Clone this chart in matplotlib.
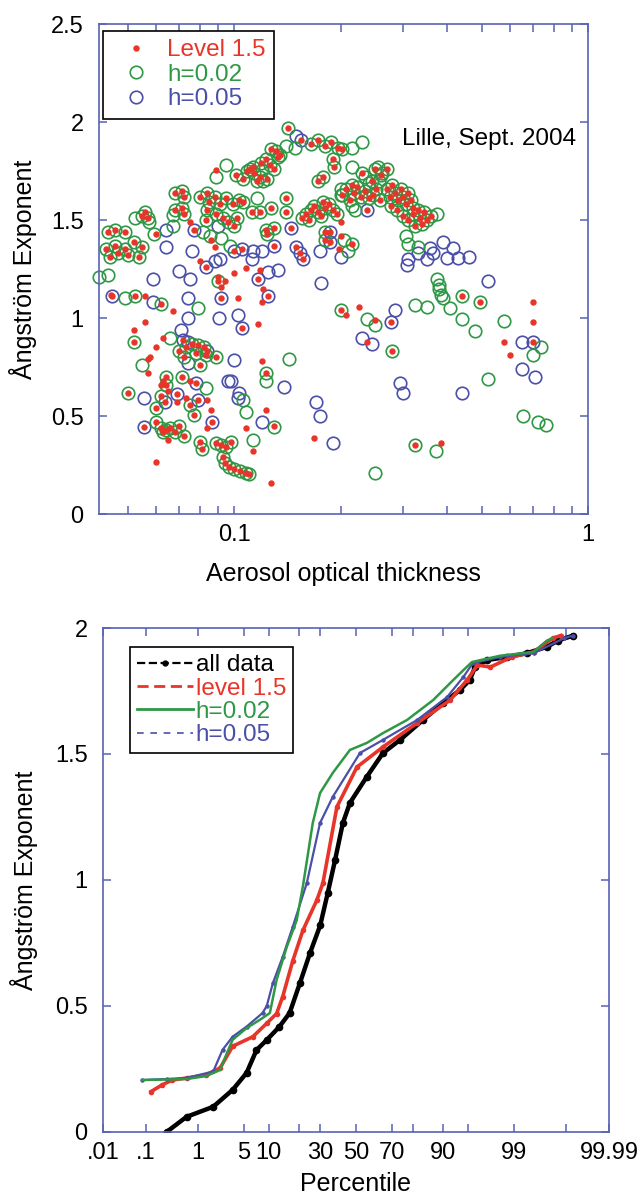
import matplotlib
matplotlib.use('Agg')

import numpy as np
import matplotlib.pyplot as plt
from matplotlib.lines import Line2D
from matplotlib.ticker import FixedLocator, NullLocator, NullFormatter, FuncFormatter
from statistics import NormalDist

plt.rcParams['font.family'] = ['Liberation Sans', 'DejaVu Sans']

# ---- top panel: AOT vs Angstrom exponent ----
# red dot inside a green ring (level 1.5 and h=0.02 agree)
both_pts = [
    (0.142, 1.97), (0.165, 1.89), (0.172, 1.91), (0.18, 1.88), (0.188, 1.90), (0.196, 1.87),
    (0.19, 1.81), (0.192, 1.77), (0.178, 1.72), (0.172, 1.70),
    (0.127, 1.86), (0.131, 1.85), (0.135, 1.83), (0.133, 1.82), (0.123, 1.81), (0.119, 1.79),
    (0.113, 1.77), (0.109, 1.75), (0.114, 1.74), (0.118, 1.72), (0.124, 1.71), (0.116, 1.70),
    (0.106, 1.71), (0.111, 1.76), (0.126, 1.78), (0.130, 1.76), (0.101, 1.73),
    (0.084, 1.64), (0.088, 1.62), (0.085, 1.59), (0.091, 1.58), (0.095, 1.61), (0.099, 1.58),
    (0.103, 1.60), (0.106, 1.59), (0.102, 1.51), (0.100, 1.47), (0.096, 1.49), (0.093, 1.51),
    (0.089, 1.53), (0.084, 1.55), (0.083, 1.50), (0.080, 1.62),
    (0.112, 1.54), (0.118, 1.54), (0.127, 1.56), (0.14, 1.61), (0.14, 1.54),
    (0.123, 1.45), (0.124, 1.43), (0.13, 1.46), (0.18, 1.44), (0.18, 1.40),
    (0.155, 1.51), (0.16, 1.53), (0.165, 1.55), (0.168, 1.57), (0.172, 1.54), (0.176, 1.52),
    (0.18, 1.56), (0.185, 1.58), (0.19, 1.55), (0.195, 1.53), (0.163, 1.50), (0.178, 1.59),
    (0.044, 1.44), (0.046, 1.45), (0.049, 1.44), (0.0435, 1.35), (0.046, 1.37), (0.049, 1.35),
    (0.052, 1.39), (0.055, 1.36), (0.054, 1.31), (0.05, 1.32), (0.0445, 1.31), (0.047, 1.33),
    (0.055, 1.52), (0.056, 1.54), (0.057, 1.51), (0.068, 1.55), (0.071, 1.56), (0.072, 1.53),
    (0.068, 1.64), (0.071, 1.65), (0.072, 1.62), (0.09, 1.19), (0.0525, 1.11), (0.062, 1.07),
    (0.202, 1.86), (0.23, 1.74), (0.25, 1.76), (0.26, 1.73), (0.27, 1.76), (0.245, 1.70),
    (0.202, 1.63), (0.207, 1.66), (0.212, 1.60), (0.218, 1.64), (0.222, 1.67), (0.228, 1.62),
    (0.234, 1.65), (0.24, 1.61), (0.246, 1.63), (0.252, 1.66), (0.258, 1.60), (0.215, 1.68),
    (0.27, 1.66), (0.275, 1.62), (0.28, 1.68), (0.285, 1.64), (0.29, 1.60), (0.296, 1.66),
    (0.30, 1.62), (0.305, 1.58), (0.31, 1.64), (0.315, 1.60), (0.32, 1.56), (0.278, 1.57),
    (0.288, 1.55), (0.30, 1.52), (0.31, 1.50), (0.32, 1.53), (0.33, 1.55), (0.335, 1.51),
    (0.34, 1.48), (0.345, 1.54), (0.35, 1.50), (0.36, 1.52), (0.325, 1.47),
    (0.215, 1.38), (0.44, 1.11), (0.495, 1.08), (0.2, 1.04), (0.28, 0.83), (0.325, 0.35),
    (0.052, 0.88), (0.070, 0.83), (0.073, 0.85), (0.076, 0.87), (0.079, 0.86), (0.082, 0.85),
    (0.078, 0.82), (0.072, 0.80), (0.083, 0.81), (0.089, 0.80), (0.08, 0.76), (0.123, 0.72),
    (0.05, 0.62), (0.06, 0.54), (0.075, 0.555), (0.077, 0.505),
    (0.064, 0.70), (0.071, 0.70), (0.062, 0.60), (0.064, 0.66),
    (0.06, 0.47), (0.062, 0.44), (0.064, 0.43), (0.066, 0.44), (0.063, 0.42), (0.068, 0.42),
    (0.072, 0.40), (0.07, 0.45), (0.080, 0.37), (0.081, 0.33),
    (0.089, 0.36), (0.092, 0.35), (0.095, 0.34), (0.098, 0.37),
    (0.093, 0.29), (0.094, 0.26), (0.097, 0.24), (0.1, 0.23), (0.104, 0.22), (0.108, 0.21),
    (0.11, 0.205),
]
# red dot alone
red_pts = [
    (0.089, 1.755), (0.06, 1.43), (0.075, 1.49), (0.086, 1.40), (0.088, 1.36), (0.08, 1.29),
    (0.09, 1.21), (0.094, 1.19), (0.092, 1.16), (0.1, 1.23), (0.108, 1.255), (0.118, 1.245),
    (0.121, 1.15), (0.045, 1.12), (0.056, 1.11), (0.067, 1.035), (0.1026, 1.10), (0.117, 0.97),
    (0.12, 1.08), (0.056, 0.98), (0.052, 0.94), (0.063, 0.90), (0.06, 0.85), (0.058, 0.80),
    (0.057, 0.79), (0.057, 0.72), (0.12, 0.78), (0.062, 0.66), (0.065, 0.63), (0.063, 0.68),
    (0.075, 0.68), (0.069, 0.57), (0.073, 0.59), (0.084, 0.58), (0.086, 0.53), (0.123, 0.53),
    (0.084, 0.44), (0.13, 0.45), (0.108, 0.44), (0.065, 0.38), (0.113, 0.32), (0.168, 0.39),
    (0.06, 0.265), (0.127, 0.16), (0.2256, 1.058), (0.207, 1.015), (0.25, 0.99), (0.238, 0.88),
    (0.70, 1.08), (0.70, 0.98), (0.577, 0.88), (0.603, 0.81), (0.385, 0.364),
    (0.2, 1.49), (0.2, 1.42), (0.198, 1.35),
]
# green ring alone (h=0.02)
green_pts = [
    (0.14, 1.88), (0.149, 1.87), (0.095, 1.78), (0.089, 1.72), (0.12, 1.755), (0.121, 1.70),
    (0.116, 1.61), (0.0526, 1.51), (0.0576, 1.49), (0.0595, 1.43), (0.0672, 1.525), (0.0672, 1.47),
    (0.0815, 1.44), (0.0855, 1.42), (0.0918, 1.41), (0.0975, 1.37), (0.0414, 1.21), (0.044, 1.22),
    (0.2, 1.63), (0.2, 1.66), (0.229, 1.90), (0.215, 1.87), (0.215, 1.77), (0.235, 1.72),
    (0.255, 1.77), (0.262, 1.74), (0.24, 1.69), (0.257, 1.70), (0.215, 1.57), (0.22, 1.55),
    (0.205, 1.40), (0.21, 1.34), (0.375, 1.53), (0.306, 1.42), (0.31, 1.38), (0.33, 1.36),
    (0.375, 1.20), (0.378, 1.17), (0.38, 1.15), (0.385, 1.12), (0.049, 1.10), (0.079, 1.05),
    (0.066, 0.90), (0.055, 0.76), (0.143, 0.79), (0.123, 0.68), (0.083, 0.645), (0.106, 0.58),
    (0.108, 0.52), (0.13, 0.445), (0.113, 0.38), (0.238, 0.995), (0.25, 0.965), (0.324, 1.066),
    (0.35, 1.056), (0.39, 1.10), (0.407, 1.05), (0.44, 0.995), (0.48, 0.935), (0.577, 0.985),
    (0.734, 0.85), (0.70, 0.81), (0.52, 0.69), (0.656, 0.50), (0.72, 0.47), (0.76, 0.455),
    (0.373, 0.32), (0.25, 0.21),
]
# blue ring alone (h=0.05)
blue_pts = [
    (0.15, 1.93), (0.175, 1.34), (0.2, 1.31), (0.064, 1.45), (0.064, 1.36), (0.076, 1.34),
    (0.09, 1.47), (0.0885, 1.29), (0.091, 1.30), (0.112, 1.30), (0.113, 1.34), (0.12, 1.34),
    (0.125, 1.235), (0.133, 1.245), (0.07, 1.24), (0.075, 1.20), (0.059, 1.20), (0.176, 1.18),
    (0.357, 1.357), (0.39, 1.39), (0.416, 1.357), (0.43, 1.306), (0.46, 1.31), (0.40, 1.306),
    (0.35, 1.30), (0.364, 1.33), (0.52, 1.19), (0.31, 1.30), (0.307, 1.27), (0.33, 1.33),
    (0.074, 1.10), (0.074, 1.00), (0.0907, 1.00), (0.1026, 1.015), (0.059, 1.08),
    (0.0706, 0.94), (0.074, 0.88), (0.074, 0.77), (0.1, 0.785), (0.096, 0.68), (0.098, 0.68),
    (0.138, 0.65), (0.0557, 0.59), (0.103, 0.62), (0.1026, 0.59), (0.17, 0.57), (0.175, 0.50),
    (0.12, 0.47), (0.19, 0.36), (0.284, 1.04), (0.23, 0.90), (0.245, 0.87), (0.65, 0.88),
    (0.65, 0.74), (0.71, 0.70), (0.295, 0.67), (0.30, 0.62), (0.44, 0.62),
]
# red dot inside a blue ring
redblue_pts = [
    (0.154, 1.91), (0.145, 1.46), (0.15, 1.36), (0.153, 1.33), (0.157, 1.30), (0.187, 1.44),
    (0.187, 1.39), (0.077, 1.45), (0.13, 1.37), (0.1, 1.34), (0.105, 1.35), (0.083, 1.26),
    (0.117, 1.20), (0.0453, 1.11), (0.238, 1.55), (0.0918, 1.10), (0.105, 0.95), (0.125, 1.11),
    (0.0715, 0.89), (0.084, 0.83), (0.078, 0.67), (0.0636, 0.57), (0.069, 0.61), (0.079, 0.58),
    (0.0863, 0.47), (0.0557, 0.445), (0.278, 0.98), (0.70, 0.88),
]

# ---- bottom panel: percentile curves ----
pct_all = [0.27, 0.64, 1.8, 3.5, 5.4, 7.2, 9.5, 13, 16.5, 20.5, 25, 30, 34, 38, 42.4, 46.5,
           56.4, 65.5, 74.2, 83.8, 90, 93.7, 95.3, 96, 97.3, 98.7, 99.4, 99.75, 99.85, 99.93]
alpha_all = [0.0, 0.06, 0.10, 0.167, 0.234, 0.325, 0.365, 0.417, 0.472, 0.59, 0.71, 0.82, 0.95,
             1.08, 1.226, 1.306, 1.41, 1.504, 1.556, 1.635, 1.702, 1.754, 1.794, 1.845, 1.873,
             1.885, 1.90, 1.925, 1.95, 1.97]
pct_l15 = [0.13, 0.22, 0.35, 0.64, 1.4, 2.3, 3.5, 6.5, 9.5, 12.2, 14.1, 17.7, 21.8, 28.3, 31.4,
           39, 50.6, 65.5, 81.6, 91.7, 94.9, 96.3, 97.6, 98.9, 99.55, 99.81, 99.87]
alpha_l15 = [0.16, 0.187, 0.206, 0.214, 0.227, 0.254, 0.34, 0.378, 0.431, 0.47, 0.537, 0.68, 0.80,
             0.92, 0.988, 1.29, 1.448, 1.528, 1.623, 1.714, 1.794, 1.853, 1.845, 1.885, 1.905,
             1.96, 1.97]
pct_h02 = [0.085, 0.64, 1.4, 2.3, 2.9, 3.5, 5.4, 7.9, 10.3, 12.2, 15.5, 19.2, 21.8, 26.3, 29.9,
           36.7, 46.5, 56.4, 65.5, 77.4, 87.2, 92.4, 94.3, 95.6, 98.3, 99.55, 99.75, 99.81]
alpha_h02 = [0.206, 0.21, 0.222, 0.246, 0.313, 0.366, 0.412, 0.445, 0.472, 0.604, 0.735, 0.84,
             0.975, 1.226, 1.345, 1.425, 1.516, 1.544, 1.583, 1.635, 1.714, 1.794, 1.833, 1.865,
             1.89, 1.905, 1.95, 1.96]
pct_h05 = [0.085, 0.27, 0.64, 1.8, 2.5, 3.5, 5.4, 8.5, 9.5, 11.1, 14.1, 17.7, 23.5, 29.9, 36.7,
           52.4, 65.5, 81.6, 91, 94.3, 95.7, 98.3, 99.55, 99.89, 99.93]
alpha_h05 = [0.206, 0.21, 0.214, 0.24, 0.326, 0.378, 0.418, 0.472, 0.50, 0.59, 0.695, 0.815, 0.987,
             1.226, 1.33, 1.504, 1.556, 1.635, 1.726, 1.806, 1.86, 1.885, 1.90, 1.96, 1.97]

prob_ticks = [0.01, 0.1, 1, 5, 10, 20, 30, 50, 70, 80, 90, 95, 99, 99.9, 99.99]
prob_labels = ['.01', '.1', '1', '5', '10', '', '30', '50', '70', '', '90', '', '99', '', '99.99']

RED = '#e8352a'
GREEN = '#2e9845'
BLUE = '#4a4fa8'
SPINE = '#5862b2'

_nd = NormalDist()
def prob_fwd(p):
    p = np.clip(np.asarray(p, dtype=float), 1e-7, 100 - 1e-7)
    return np.vectorize(lambda v: _nd.inv_cdf(v / 100.0), otypes=[float])(p)

def prob_inv(z):
    z = np.asarray(z, dtype=float)
    return np.vectorize(lambda v: 100.0 * _nd.cdf(v), otypes=[float])(z)

def style_axes(ax):
    for s in ax.spines.values():
        s.set_color(SPINE)
        s.set_linewidth(1.2)
    ax.tick_params(which='both', direction='in', top=True, right=True, color=SPINE,
                   width=1.1, length=6, labelsize=17, labelcolor='black')
    ax.tick_params(axis='y', pad=11)
    ax.tick_params(axis='x', pad=7)

fig = plt.figure(figsize=(6.43, 12.01), dpi=100)

# top panel
ax1 = fig.add_axes([0.154, 0.572, 0.7605, 0.408])
ax1.set_xscale('log')
b = np.array(both_pts).T
r = np.array(red_pts).T
g = np.array(green_pts).T
bl = np.array(blue_pts).T
rb = np.array(redblue_pts).T
ring = dict(ls='none', marker='o', ms=9, mfc='none', mew=1.2, clip_on=False)
dot = dict(ls='none', marker='o', ms=4.6, mew=0, color=RED, clip_on=False)
ax1.plot(bl[0], bl[1], mec=BLUE, **ring)
ax1.plot(rb[0], rb[1], mec=BLUE, **ring)
ax1.plot(g[0], g[1], mec=GREEN, **ring)
ax1.plot(b[0], b[1], mec=GREEN, **ring)
ax1.plot(b[0], b[1], **dot)
ax1.plot(r[0], r[1], **dot)
ax1.plot(rb[0], rb[1], **dot)
ax1.set_xlim(0.0415, 1.0)
ax1.set_ylim(0, 2.5)
ax1.set_yticks([0, 0.5, 1, 1.5, 2, 2.5])
ax1.yaxis.set_major_formatter(FuncFormatter(lambda v, pos: '%g' % v))
ax1.xaxis.set_major_formatter(FuncFormatter(lambda v, pos: '%g' % v))
ax1.xaxis.set_minor_formatter(NullFormatter())
style_axes(ax1)
ax1.set_xlabel('Aerosol optical thickness', fontsize=18)
ax1.set_ylabel('Ångström Exponent', fontsize=18)
ax1.xaxis.set_label_coords(0.5, -0.098)
ax1.yaxis.set_label_coords(-0.127, 0.5)
ax1.text(0.975, 0.765, 'Lille, Sept. 2004', transform=ax1.transAxes, ha='right', va='center',
         fontsize=17.5)

h1 = [Line2D([], [], ls='none', marker='o', ms=4.6, mew=0, color=RED),
      Line2D([], [], ls='none', marker='o', ms=9, mfc='none', mew=1.2, mec=GREEN),
      Line2D([], [], ls='none', marker='o', ms=9, mfc='none', mew=1.2, mec=BLUE)]
leg1 = ax1.legend(h1, ['Level 1.5', 'h=0.02', 'h=0.05'], loc='upper left',
                  bbox_to_anchor=(0.008, 0.986), borderaxespad=0, fontsize=17.5,
                  fancybox=False, edgecolor='black', framealpha=1, handlelength=2.0,
                  handletextpad=0.3, borderpad=0.35, labelspacing=0.1)
leg1.get_frame().set_linewidth(1.2)
for t, c in zip(leg1.get_texts(), [RED, GREEN, BLUE]):
    t.set_color(c)

# bottom panel
ax2 = fig.add_axes([0.160, 0.0575, 0.787, 0.4196])
ax2.set_xscale('function', functions=(prob_fwd, prob_inv))
ax2.plot(pct_all, alpha_all, '-', color='black', lw=3.2, marker='o', ms=4.5)
ax2.plot(pct_l15, alpha_l15, '-', color=RED, lw=2.6, marker='o', ms=3)
ax2.plot(pct_h05, alpha_h05, '-', color=BLUE, lw=1.6, marker='o', ms=2.2)
ax2.plot(pct_h02, alpha_h02, '-', color=GREEN, lw=1.8)
ax2.set_xlim(0.01, 99.99)
ax2.set_ylim(0, 2)
ax2.xaxis.set_major_locator(FixedLocator(prob_ticks))
ax2.xaxis.set_minor_locator(NullLocator())
ax2.set_xticklabels(prob_labels)
ax2.set_yticks([0, 0.5, 1, 1.5, 2])
ax2.yaxis.set_major_formatter(FuncFormatter(lambda v, pos: '%g' % v))
style_axes(ax2)
ax2.set_xlabel('Percentile', fontsize=18)
ax2.set_ylabel('Ångström Exponent', fontsize=18)
ax2.xaxis.set_label_coords(0.5, -0.079)
ax2.yaxis.set_label_coords(-0.128, 0.5)

h2 = [Line2D([], [], color='black', ls='--', lw=1.6, marker='o', ms=3.5),
      Line2D([], [], color=RED, ls=(0, (4, 2)), lw=2.0),
      Line2D([], [], color=GREEN, ls='-', lw=2.0),
      Line2D([], [], color=BLUE, ls=(0, (4, 4)), lw=1.2)]
leg2 = ax2.legend(h2, ['all data', 'level 1.5', 'h=0.02', 'h=0.05'], loc='upper left',
                  bbox_to_anchor=(0.053, 0.962), borderaxespad=0, fontsize=17.5,
                  fancybox=False, edgecolor='black', framealpha=1, handlelength=2.3,
                  handletextpad=0.12, borderpad=0.3, labelspacing=0.05)
leg2.get_frame().set_linewidth(1.2)
for t, c in zip(leg2.get_texts(), ['black', RED, GREEN, BLUE]):
    t.set_color(c)

fig.savefig('out.png', dpi=100)
